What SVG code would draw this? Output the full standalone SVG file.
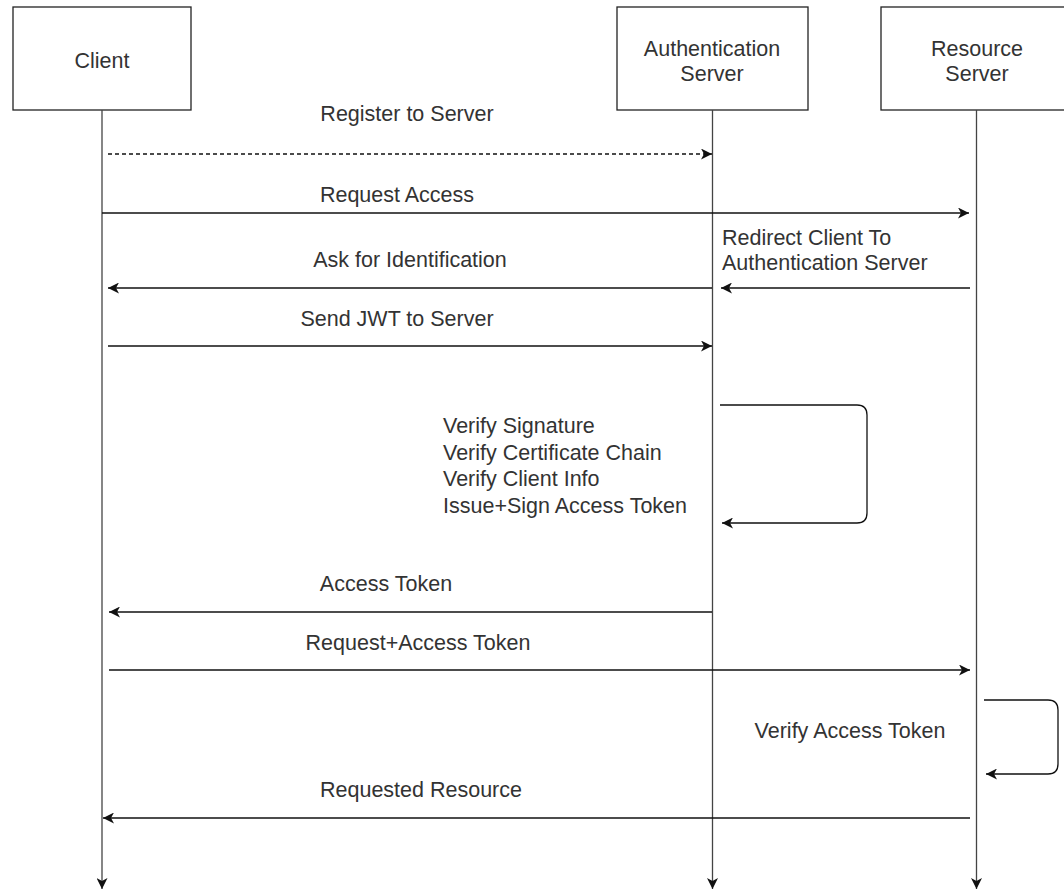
<svg xmlns="http://www.w3.org/2000/svg" width="1064" height="891" viewBox="0 0 1064 891">
<defs>
<style>
.box{fill:#fff;stroke:#222;stroke-width:1.3}
.life{fill:none;stroke:#444;stroke-width:1.3}
.msg{fill:none;stroke:#111;stroke-width:1.3}
.dash{stroke-dasharray:4 3}
text{font-family:"Liberation Sans",Arial,sans-serif;font-size:21.5px;fill:#333}
.c{text-anchor:middle}
</style>
<marker id="ah" viewBox="0 0 11 11" refX="11" refY="5.5" markerWidth="11" markerHeight="11" markerUnits="userSpaceOnUse" orient="auto">
<path d="M0,0 L11,5.5 L0,11 L3,5.5 z" fill="#111"/>
</marker>
</defs>
<rect width="1064" height="891" fill="#fff"/>
<g id="client">
<rect class="box" x="13" y="7" width="178" height="103"/>
<text class="c" x="102" y="68">Client</text>
</g>
<g id="auth">
<rect class="box" x="617" y="7" width="191" height="103"/>
<text class="c" x="712" y="56">Authentication</text>
<text class="c" x="712" y="81">Server</text>
</g>
<g id="resource">
<rect class="box" x="881" y="7" width="192" height="103"/>
<text class="c" x="977" y="56">Resource</text>
<text class="c" x="977" y="81">Server</text>
</g>
<g id="connectors">
<line class="life" x1="102" y1="110" x2="102" y2="889" marker-end="url(#ah)"/>
<line class="life" x1="712.5" y1="110" x2="712.5" y2="889" marker-end="url(#ah)"/>
<line class="life" x1="976.5" y1="110" x2="976.5" y2="889" marker-end="url(#ah)"/>
<line class="msg dash" x1="108" y1="154" x2="712" y2="154" marker-end="url(#ah)"/>
<line class="msg" x1="102" y1="213" x2="969" y2="213" marker-end="url(#ah)"/>
<line class="msg" x1="970" y1="288" x2="721" y2="288" marker-end="url(#ah)"/>
<line class="msg" x1="712" y1="288" x2="108" y2="288" marker-end="url(#ah)"/>
<line class="msg" x1="108" y1="346" x2="712" y2="346" marker-end="url(#ah)"/>
<path class="msg" d="M720,405 H857 Q867,405 867,415 V513 Q867,523 857,523 H722" marker-end="url(#ah)"/>
<line class="msg" x1="712" y1="612" x2="109" y2="612" marker-end="url(#ah)"/>
<line class="msg" x1="109" y1="670" x2="970" y2="670" marker-end="url(#ah)"/>
<path class="msg" d="M984,700 H1048 Q1058,700 1058,710 V764 Q1058,774 1048,774 H986" marker-end="url(#ah)"/>
<line class="msg" x1="970" y1="818" x2="103" y2="818" marker-end="url(#ah)"/>
</g>
<g id="labels">
<text class="c" x="407" y="121">Register to Server</text>
<text class="c" x="397" y="202">Request Access</text>
<text x="722" y="245">Redirect Client To</text>
<text x="722" y="270">Authentication Server</text>
<text class="c" x="410" y="267">Ask for Identification</text>
<text class="c" x="397" y="326">Send JWT to Server</text>
<text x="443" y="433">Verify Signature</text>
<text x="443" y="460">Verify Certificate Chain</text>
<text x="443" y="486">Verify Client Info</text>
<text x="443" y="513">Issue+Sign Access Token</text>
<text class="c" x="386" y="591">Access Token</text>
<text class="c" x="418" y="650">Request+Access Token</text>
<text class="c" x="850" y="738">Verify Access Token</text>
<text class="c" x="421" y="797">Requested Resource</text>
</g>
</svg>
